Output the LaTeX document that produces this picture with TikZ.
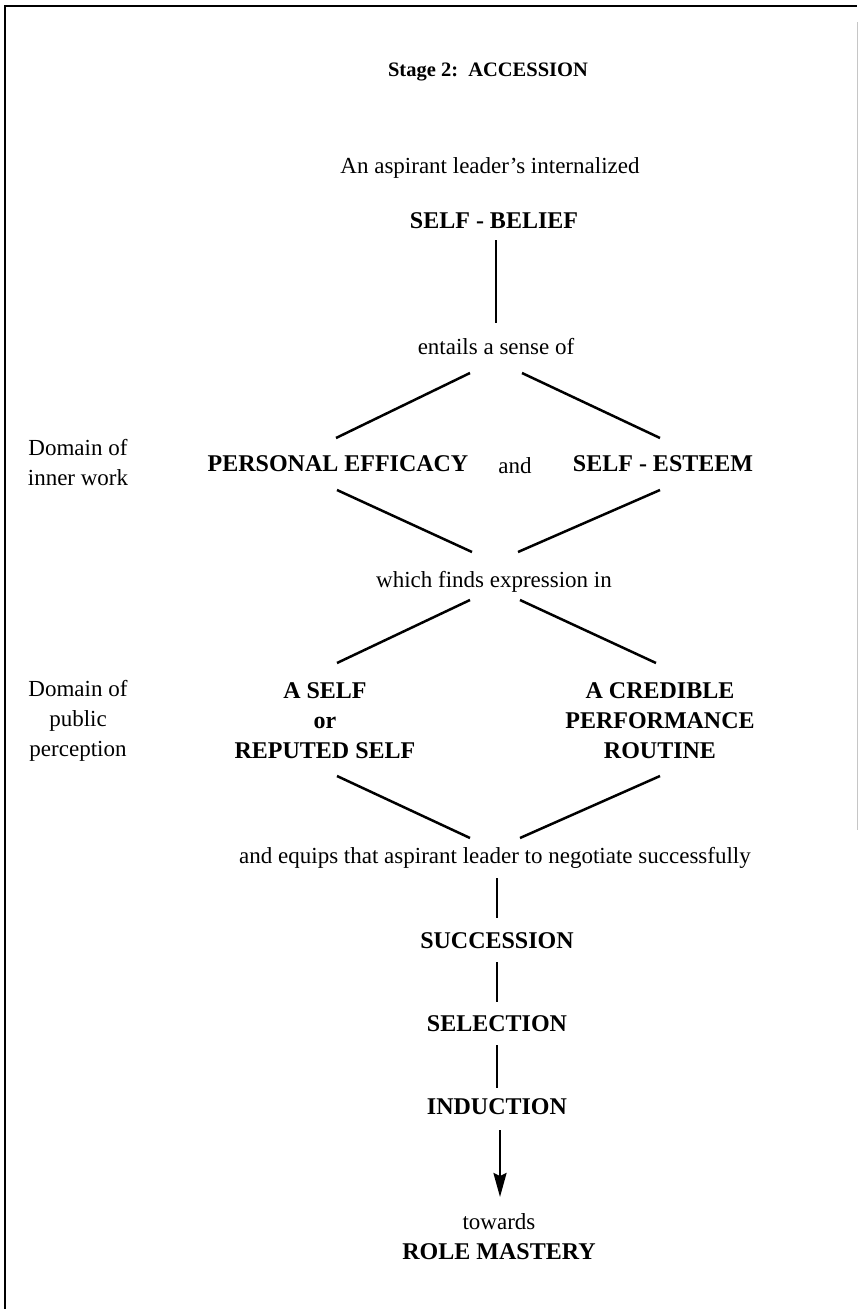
\documentclass[tikz,border=0pt]{standalone}
\usepackage{fontspec}
\setmainfont{Liberation Serif}
\usetikzlibrary{arrows.meta,calc}
\begin{document}
\begin{tikzpicture}[x=1pt,y=-1pt,
  reg/.style={font=\fontsize{23}{30}\selectfont, inner sep=0pt, align=center},
  bld/.style={font=\fontsize{24}{30}\selectfont\bfseries, inner sep=0pt, align=center},
  ttl/.style={font=\fontsize{20.5}{26}\selectfont\bfseries, inner sep=0pt},
  conn/.style={line width=2.5pt},
  framel/.style={line width=2.2pt},
]
\useasboundingbox (0,0) rectangle (859,1309);
\draw[framel] (5,1309) -- (5,6) -- (857,6);
\draw[gray!45, line width=1pt] (857,22) -- (857,830);

\node[ttl] (title) at (488,72) {Stage 2:\ \ ACCESSION};
\node[reg] (asp) at (490,168) {An aspirant leader's internalized};
\node[bld] (sb) at (494,221) {SELF - BELIEF};
\node[reg] (ent) at (496,347) {entails a sense of};
\node[reg] (dom1) at (78,463) {Domain of\\inner work};
\node[bld] (pe) at (338,464) {PERSONAL EFFICACY};
\node[reg] (and) at (515,466) {and};
\node[bld] (se) at (663,464) {SELF - ESTEEM};
\node[reg] (which) at (494,582) {which finds expression in};
\node[reg] (dom2) at (78,721) {Domain of\\public\\perception};
\node[bld] (aself) at (325,721) {A SELF\\or\\REPUTED SELF};
\node[bld] (acred) at (660,721) {A CREDIBLE\\PERFORMANCE\\ROUTINE};
\node[reg] (equips) at (495,858) {and equips that aspirant leader to negotiate successfully};
\node[bld] (succ) at (497,941) {SUCCESSION};
\node[bld] (sel) at (497,1024) {SELECTION};
\node[bld] (ind) at (497,1107) {INDUCTION};
\node[reg] (tow) at (499,1222) {towards};
\node[bld] (role) at (499,1252) {ROLE MASTERY};

% vertical link
\draw[conn] ($(sb)+(2,19)$) -- ($(ent)+(0,-24)$);
% entails -> inner work domain
\draw[conn] ($(ent)+(-26,26)$) -- ($(pe)+(-2,-26)$);
\draw[conn] ($(ent)+(26,26)$) -- ($(se)+(-3,-26)$);
% inner work -> which
\draw[conn] ($(pe)+(-1,26)$) -- ($(which)+(-22,-30)$);
\draw[conn] ($(se)+(-3,26)$) -- ($(which)+(24,-30)$);
% which -> public perception
\draw[conn] ($(which)+(-24,18)$) -- ($(aself)+(12,-58)$);
\draw[conn] ($(which)+(26,18)$) -- ($(acred)+(-4,-58)$);
% public perception -> equips
\draw[conn] ($(aself)+(12,55)$) -- ($(equips)+(-25,-20)$);
\draw[conn] ($(acred)+(0,55)$) -- ($(equips)+(25,-20)$);
% chain
\draw[conn] ($(equips)+(2,20)$) -- ($(succ)+(0,-23)$);
\draw[conn] ($(succ)+(0,21)$) -- ($(sel)+(0,-22)$);
\draw[conn] ($(sel)+(0,21)$) -- ($(ind)+(0,-19)$);
\draw[conn, -{Stealth[length=24pt,width=13pt,inset=3pt]}] ($(ind)+(3,23)$) -- ($(tow)+(1,-25)$);
\end{tikzpicture}
\end{document}
